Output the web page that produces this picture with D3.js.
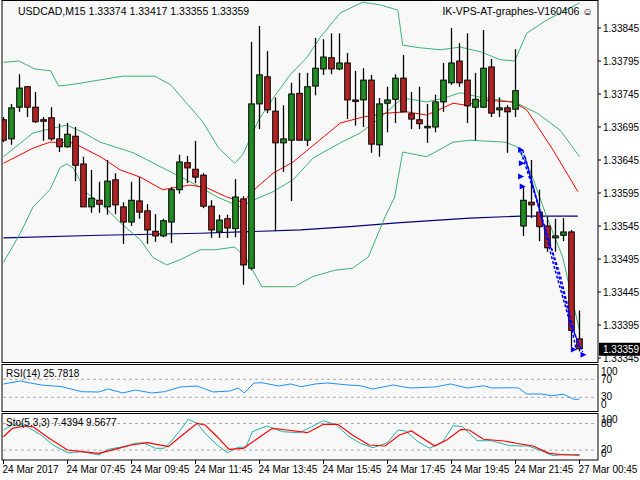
<!DOCTYPE html>
<html><head><meta charset="utf-8">
<script src="https://cdn.jsdelivr.net/npm/d3@7"></script>
<style>body{margin:0;background:#fff}svg{display:block}text{font-family:"Liberation Sans",Arial,sans-serif}</style>
</head><body>
<svg id="c" width="640" height="480"></svg>
<script>
const opens =[1.33706,1.33677,1.33725,1.33756,1.33725,1.33706,1.33709,1.33677,1.33665,1.33681,1.33639,1.33574,1.33584,1.33574,1.33615,1.33574,1.33551,1.33583,1.33568,1.33537,1.33530,1.33551,1.33600,1.33641,1.33631,1.33622,1.33575,1.33536,1.33556,1.33541,1.33586,1.33481,1.33730,1.33771,1.33719,1.33671,1.33675,1.33746,1.33675,1.33757,1.33783,1.33800,1.33783,1.33792,1.33736,1.33736,1.33766,1.33668,1.33731,1.33737,1.33769,1.33715,1.33706,1.33695,1.33695,1.33733,1.33762,1.33795,1.33766,1.33725,1.33725,1.33786,1.33721,1.33724,1.33722,1.33545,1.33581,1.33566,1.33545,1.33527,1.33531,1.33536,1.33374];
const highs =[1.33710,1.33730,1.33775,1.33757,1.33748,1.33710,1.33725,1.33700,1.33701,1.33695,1.33650,1.33630,1.33612,1.33645,1.33625,1.33581,1.33612,1.33619,1.33578,1.33563,1.33556,1.33604,1.33653,1.33651,1.33674,1.33625,1.33584,1.33562,1.33562,1.33616,1.33590,1.33824,1.33848,1.33810,1.33740,1.33728,1.33762,1.33777,1.33777,1.33830,1.33828,1.33837,1.33837,1.33807,1.33780,1.33784,1.33774,1.33739,1.33756,1.33775,1.33804,1.33748,1.33756,1.33730,1.33744,1.33792,1.33845,1.33822,1.33837,1.33777,1.33842,1.33798,1.33740,1.33728,1.33813,1.33604,1.33645,1.33600,1.33559,1.33556,1.33557,1.33539,1.33417];
const lows  =[1.33672,1.33668,1.33718,1.33710,1.33701,1.33674,1.33674,1.33657,1.33664,1.33613,1.33574,1.33565,1.33565,1.33562,1.33563,1.33518,1.33545,1.33556,1.33518,1.33521,1.33528,1.33519,1.33594,1.33610,1.33610,1.33572,1.33527,1.33527,1.33527,1.33528,1.33456,1.33478,1.33692,1.33716,1.33537,1.33627,1.33583,1.33675,1.33666,1.33743,1.33774,1.33775,1.33781,1.33707,1.33697,1.33695,1.33656,1.33650,1.33687,1.33701,1.33718,1.33692,1.33692,1.33671,1.33687,1.33718,1.33759,1.33756,1.33701,1.33675,1.33724,1.33710,1.33710,1.33656,1.33710,1.33530,1.33557,1.33522,1.33506,1.33506,1.33522,1.33362,1.33355];
const closes=[1.33675,1.33724,1.33754,1.33725,1.33703,1.33705,1.33677,1.33665,1.33684,1.33637,1.33574,1.33587,1.33578,1.33613,1.33577,1.33551,1.33584,1.33566,1.33539,1.33530,1.33553,1.33600,1.33642,1.33633,1.33619,1.33575,1.33539,1.33554,1.33542,1.33589,1.33486,1.33730,1.33774,1.33721,1.33671,1.33677,1.33745,1.33675,1.33756,1.33784,1.33801,1.33783,1.33792,1.33736,1.33734,1.33766,1.33669,1.33730,1.33736,1.33769,1.33718,1.33707,1.33700,1.33696,1.33733,1.33766,1.33792,1.33762,1.33727,1.33737,1.33784,1.33716,1.33724,1.33718,1.33750,1.33584,1.33577,1.33544,1.33512,1.33530,1.33536,1.33387,1.33359];

const bbUpper=[[0,1.33793],[1.9,1.33795],[3.9,1.33783],[5.9,1.33780],[6.9,1.33757],[8.9,1.33760],[11.9,1.33766],[14.9,1.33772],[18.9,1.33772],[20.9,1.33759],[22.9,1.33731],[24.9,1.33703],[26.9,1.33663],[28.9,1.33640],[29.9,1.33653],[31.9,1.33706],[33.9,1.33742],[35.9,1.33775],[37.9,1.33800],[39.6,1.33831],[42.1,1.33868],[44.9,1.33884],[47.1,1.33880],[49.3,1.33872],[49.9,1.33819],[52.1,1.33815],[54.6,1.33812],[57.1,1.33816],[59.6,1.33809],[62.1,1.33797],[63.9,1.33795],[65.4,1.33837],[67.9,1.33857],[72,1.33883]];
const bbMid=[[0,1.33650],[3.7,1.33686],[7.9,1.33698],[9.9,1.33687],[12.1,1.33672],[16.2,1.33656],[20.4,1.33630],[24.6,1.33604],[26.7,1.33589],[29.6,1.33574],[31.2,1.33584],[33.7,1.33597],[36.2,1.33615],[38.7,1.33648],[42.1,1.33671],[44.6,1.33686],[47.1,1.33709],[49.9,1.33739],[52.9,1.33733],[55.4,1.33740],[57.1,1.33747],[59.6,1.33740],[62.1,1.33736],[64.2,1.33731],[66.7,1.33716],[69.6,1.33690],[72,1.33650]];
const bbLower=[[0,1.33490],[2.1,1.33534],[3.7,1.33574],[5.8,1.33600],[7.1,1.33634],[7.9,1.33639],[8.7,1.33633],[10.4,1.33595],[12.1,1.33580],[14.6,1.33550],[17.1,1.33524],[18.7,1.33497],[20.4,1.33486],[22.1,1.33494],[24.6,1.33509],[26.4,1.33509],[28.9,1.33513],[30.2,1.33498],[32.3,1.33453],[36.4,1.33453],[38.6,1.33468],[41.4,1.33478],[43.6,1.33481],[45.6,1.33498],[47.7,1.33559],[48.9,1.33589],[49.9,1.33657],[52.9,1.33650],[56.2,1.33672],[58.3,1.33675],[62.7,1.33672],[64.2,1.33665],[65.8,1.33630],[67.9,1.33559],[69.9,1.33498],[71.2,1.33428],[72,1.33387]];
const maRed=[[0,1.33640],[3.7,1.33663],[5.8,1.33672],[8.7,1.33671],[12.1,1.33650],[14.6,1.33630],[17.1,1.33619],[19.9,1.33600],[23.3,1.33607],[25.4,1.33603],[27.9,1.33589],[29.9,1.33581],[31.7,1.33604],[33.7,1.33625],[36.2,1.33642],[39.2,1.33672],[42.1,1.33701],[44.9,1.33710],[47.9,1.33716],[50.4,1.33718],[52.9,1.33713],[56.2,1.33731],[57.9,1.33728],[59.9,1.33736],[62.1,1.33734],[63.7,1.33733],[65.4,1.33721],[68.7,1.33660],[71.8,1.33597]];
const maBlue=[[0,1.33527],[12.1,1.33531],[24.6,1.33534],[37.1,1.33539],[43.3,1.33544],[49.6,1.33550],[58.3,1.33557],[64.6,1.33560],[71.8,1.33560]];
const zigA=[[64.5,1.33664],[66.5,1.33590],[68.5,1.33510],[70.5,1.33420],[71.6,1.33357]];
const zigB=[[64.9,1.33660],[66.9,1.33575],[68.9,1.33480],[70.9,1.33395],[72.4,1.33354]];
const zigC=[[65.2,1.33650],[67.2,1.33560],[69.6,1.33470],[71.2,1.33390],[72.0,1.33360]];

const rsi=[[0,59.6],[2.1,66.2],[4.7,57.3],[7.3,53.6],[9.8,42.4],[11.9,41.8],[13.1,48.4],[14.9,39.6],[16.5,46.2],[18.5,39.6],[20.1,42.4],[22.1,52.9],[24.2,55.1],[26.2,41.8],[28.3,44],[29.3,50.7],[30.1,39.6],[31.3,61.8],[32.3,62.4],[34.4,55.1],[35.9,59.6],[37.2,53.6],[39,59.6],[40.5,61.8],[43.1,57.3],[44.6,55.8],[46.2,48.4],[48.7,57.3],[50.8,50.7],[53.9,52.9],[55.9,59.6],[58,50.7],[60,55.8],[61,50.7],[63.6,51.3],[64.4,50.7],[65.4,37.3],[67.2,37.3],[68.5,33.6],[70,36.7],[71.3,25.6],[72,25.8]];
const stoK=[[0,65.3],[1.1,76.6],[2.6,76.6],[4.7,54],[6.2,31.5],[8,14.2],[9.8,16.4],[11.9,9],[13.1,21.8],[14.9,27.7],[16.5,35.4],[17.5,36.7],[19,24.1],[20.1,24.1],[21.1,42.8],[22.1,65.3],[23.1,89.4],[24.2,80.4],[25.2,57.9],[26.7,31.5],[28,14.2],[29.3,26.4],[30.3,26.4],[31.1,61.5],[32.9,74.3],[34.9,61.5],[37,59.2],[38.5,72.7],[40,86.3],[41.6,76.6],[43.1,51.8],[44.6,35.4],[46.2,25.5],[48,36.7],[49.3,65.3],[50.3,63],[51.8,39],[53.3,24.1],[54.9,39],[56.2,75],[57.4,72.7],[59.2,41.2],[61,41.2],[63.3,30],[65.6,29.3],[67.2,18.7],[68.7,7.4],[70.3,10.6],[72,7.4]];
const stoD=[[0,50.2],[1.1,69.1],[2.6,74.3],[3.7,72.7],[5.7,46.6],[8,20.3],[9.8,16.4],[11.9,12.8],[13.9,21.8],[16,31.5],[18,36.7],[20.6,27.7],[22.1,50.2],[24.2,80.4],[25.2,76.6],[26.7,50.2],[28.2,21.8],[30,24.1],[31.8,46.6],[33.6,69.1],[35.4,65.3],[38,59.2],[40,78.2],[41.8,78.2],[43.6,54],[45.7,31.5],[47.7,29.3],[49.5,54],[51,63],[53.9,29.3],[55.4,42.8],[57.2,66.9],[58.2,65.3],[60,44.4],[62.6,40.5],[64.1,35.4],[66.2,29.3],[68.2,12.8],[70.3,9],[72,9.6]];

const priceTicks=[1.33845,1.33795,1.33745,1.33695,1.33645,1.33595,1.33545,1.33495,1.33445,1.33395,1.33345];
const timeTicks=[0,8,16,24,32,40,48,56,64,72];
const timeLabels=["24 Mar 2017","24 Mar 07:45","24 Mar 09:45","24 Mar 11:45","24 Mar 13:45","24 Mar 15:45","24 Mar 17:45","24 Mar 19:45","24 Mar 21:45","27 Mar 00:45"];

const svg=d3.select("#c");
const R=598;
svg.append("rect").attr("width",640).attr("height",480).attr("fill","#fff");
svg.append("rect").attr("x",2).attr("y",0).attr("width",R-2).attr("height",460).attr("fill","#f8f8f8");

const x=d3.scaleLinear().domain([0,72]).range([3.5,579.5]);
const y=d3.scaleLinear().domain([1.33345,1.33845]).range([358,28]);
const yr=d3.scaleLinear().domain([0,100]).range([410.8,365.8]);
const ys=d3.scaleLinear().domain([0,100]).range([459,414.6]);

svg.append("clipPath").attr("id","m").append("rect").attr("x",2).attr("y",0).attr("width",R-2).attr("height",362);
const g=svg.append("g").attr("clip-path","url(#m)");
const line=(sy)=>d3.line().x(d=>x(d[0])).y(d=>sy(d[1]));

g.append("path").datum(maBlue).attr("d",line(y)).attr("fill","none").attr("stroke","#000080").attr("stroke-width",1.2);
[bbUpper,bbMid,bbLower].forEach(a=>g.append("path").datum(a).attr("d",line(y)).attr("fill","none").attr("stroke","#3cb371").attr("stroke-width",1));
g.append("path").datum(maRed).attr("d",line(y)).attr("fill","none").attr("stroke","#ff0000").attr("stroke-width",1);

const idx=d3.range(opens.length);
g.selectAll(".w").data(idx).join("line").attr("x1",i=>x(i)).attr("x2",i=>x(i)).attr("y1",i=>y(highs[i])).attr("y2",i=>y(lows[i])).attr("stroke","#000").attr("stroke-width",1.3);
g.selectAll(".b").data(idx).join("rect").attr("x",i=>x(i)-2.8).attr("width",5.6)
 .attr("y",i=>y(Math.max(opens[i],closes[i]))).attr("height",i=>Math.max(1.5,Math.abs(y(opens[i])-y(closes[i]))))
 .attr("fill",i=>closes[i]>=opens[i]?"#228b22":"#b22222").attr("stroke","#000").attr("stroke-width",1);

[zigA,zigB,zigC].forEach(a=>g.append("path").datum(a).attr("d",line(y)).attr("fill","none").attr("stroke","#0000ff").attr("stroke-width",1.5).attr("stroke-dasharray","3,2"));
const arrows=[[64.7,1.33660],[64.8,1.33640],[64.7,1.33620],[64.9,1.33605],[71.3,1.33358],[72.5,1.33350]];
g.selectAll(".ar").data(arrows).join("path").attr("d",d=>`M${x(d[0])-3},${y(d[1])-3}L${x(d[0])+3},${y(d[1])}L${x(d[0])-3},${y(d[1])+3}Z`).attr("fill","#0000ff");

// frames
const fr=(y0,y1)=>svg.append("rect").attr("x",2).attr("y",y0).attr("width",R-2).attr("height",y1-y0).attr("fill","none").attr("stroke","#000").attr("stroke-width",1);
fr(0.5,362.5);fr(364.5,411.5);fr(413.5,460);

// price axis
priceTicks.forEach(p=>{svg.append("line").attr("x1",R).attr("x2",R+3).attr("y1",y(p)).attr("y2",y(p)).attr("stroke","#000");
 svg.append("text").attr("x",603).attr("y",y(p)+4).attr("font-size",10).text(p.toFixed(5));});
svg.append("rect").attr("x",599).attr("y",y(closes[72])-6).attr("width",41).attr("height",13).attr("fill","#000");
svg.append("text").attr("x",603).attr("y",y(closes[72])+4).attr("font-size",10).attr("fill","#fff").text(closes[72].toFixed(5));

// RSI
[70,30].forEach(v=>svg.append("line").attr("x1",3).attr("x2",R-1).attr("y1",yr(v)).attr("y2",yr(v)).attr("stroke","#aaa").attr("stroke-dasharray","3,3"));
svg.append("path").datum(rsi).attr("d",line(yr)).attr("fill","none").attr("stroke","#1e90ff").attr("stroke-width",1);
[[100,372],[70,380],[30,397],[0,405]].forEach(a=>svg.append("text").attr("x",601).attr("y",a[1]+3).attr("font-size",10).text(a[0]));
svg.append("text").attr("x",6).attr("y",377).attr("font-size",10).text("RSI(14) 25.7818");

// Sto
[80,20].forEach(v=>svg.append("line").attr("x1",3).attr("x2",R-1).attr("y1",ys(v)).attr("y2",ys(v)).attr("stroke","#aaa").attr("stroke-dasharray","3,3"));
svg.append("path").datum(stoK).attr("d",line(ys)).attr("fill","none").attr("stroke","#20b2aa").attr("stroke-width",1);
svg.append("path").datum(stoD).attr("d",line(ys)).attr("fill","none").attr("stroke","#ff0000").attr("stroke-width",1.2);
[[100,420],[80,424],[20,450],[0,454]].forEach(a=>svg.append("text").attr("x",601).attr("y",a[1]+3).attr("font-size",10).text(a[0]));
svg.append("text").attr("x",6).attr("y",426).attr("font-size",10).text("Sto(5,3,3) 7.4394 9.5677");

// time axis
timeTicks.forEach((t,i)=>{svg.append("line").attr("x1",x(t)).attr("x2",x(t)).attr("y1",460).attr("y2",464).attr("stroke","#000");
 svg.append("text").attr("x",x(t)-1).attr("y",473).attr("font-size",10).text(timeLabels[i]);});

svg.append("text").attr("x",18).attr("y",15).attr("font-size",10.5).text("USDCAD,M15  1.33374 1.33417 1.33355 1.33359");
svg.append("text").attr("x",593).attr("y",15).attr("font-size",10.5).attr("text-anchor","end").text("IK-VPS-AT-graphes-V160406 \u263A");
</script></body></html>
